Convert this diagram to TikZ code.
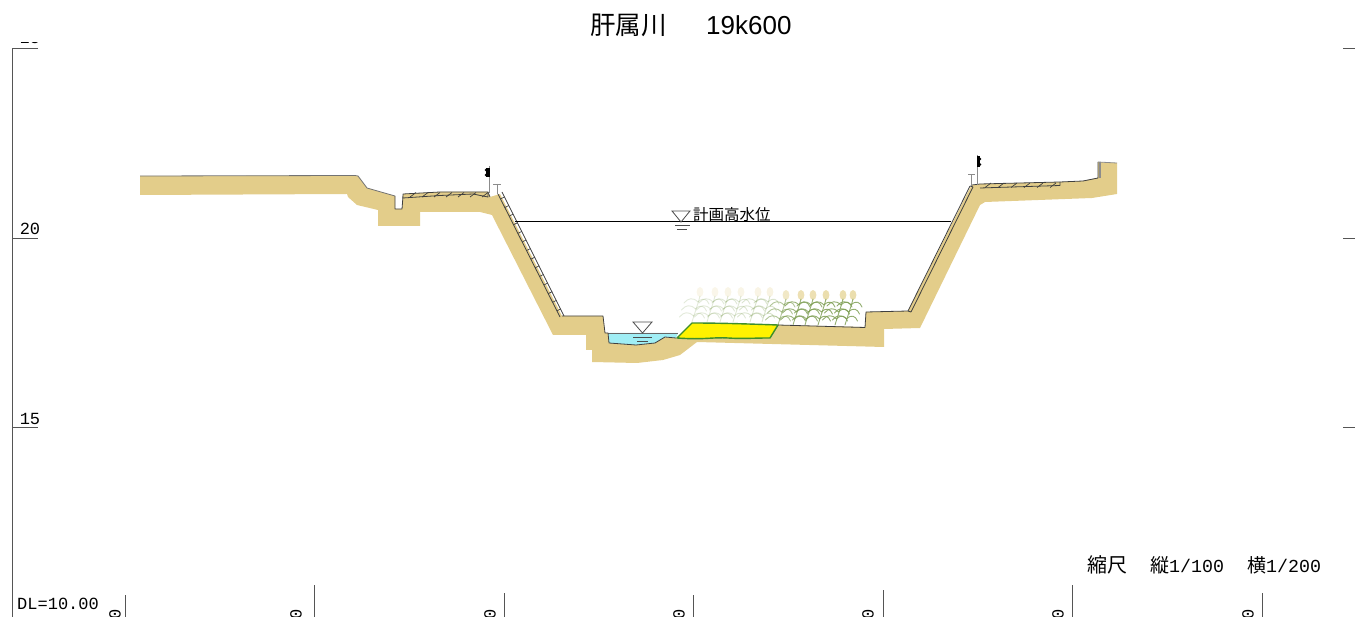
\documentclass[tikz,border=0pt]{standalone}
\usepackage{fontspec}
\setmainfont{Liberation Sans}
\newfontfamily\cjk{Noto Sans CJK JP}
\newfontfamily\lab{Liberation Mono}
\definecolor{soil}{HTML}{E3CD8A}
\definecolor{wat}{HTML}{A0EEF5}
\definecolor{grn}{HTML}{3E8E2B}
\definecolor{leaf}{HTML}{7F9F55}
\definecolor{tass}{HTML}{E8D8A0}
\definecolor{axisg}{HTML}{555555}
\tikzset{
  axis/.style={draw=axisg,line width=1pt},
  prof/.style={draw=black!75,line width=.8pt,line join=round},
  lbl/.style={inner sep=0pt,font=\fontsize{17}{17}\selectfont\lab},
  pole/.style={draw=black!45,line width=.8pt},
  plantline/.style={line width=.9pt,line cap=round}
}
\newcommand{\corn}[3]{%
 \begin{scope}[shift={(#1,#2)},opacity=#3]
  \fill[tass] (8,-30) ellipse (3.4 and 5);
  \draw[plantline,leaf] (0,0) .. controls (3,-10) and (6,-18) .. (8,-26);
  \foreach \yy/\xx in {-6/1.5,-13/3.5,-20/6}{
    \draw[plantline,leaf] (\xx,\yy) .. controls (\xx+5,\yy-5) and (\xx+9,\yy-3) .. (\xx+11,\yy+2);
    \draw[plantline,leaf] (\xx,\yy) .. controls (\xx-5,\yy-5) and (\xx-10,\yy-4) .. (\xx-14,\yy+1);
  }
 \end{scope}}
\begin{document}
\begin{tikzpicture}[x=1pt,y=-1pt]
\useasboundingbox (0,0) rectangle (1355,617);
% soil body
\fill[soil] (140,176) -- (355,175.5) -- (358,176) -- (367,188) -- (395,196) -- (395,209) -- (402,209) -- (403,196)
 -- (440,192) -- (488,192) -- (490,197) -- (500,194) -- (562,316) -- (603,316) -- (605,333) -- (608,333) -- (676,338) -- (692,323) -- (778,325)
 -- (865,327) -- (866,312) -- (908,311) -- (970,188) -- (972,185) -- (980,184) -- (1060,182) -- (1083,181) -- (1093,179) -- (1098,178) -- (1098,162) -- (1117,163)
 -- (1117,194) -- (1092,198) -- (985,202) -- (980,205) -- (920,328) -- (884,329) -- (884,347) -- (697,342) -- (680,355) -- (663,360) -- (637,363) -- (592,362) -- (592,350) -- (586,350) -- (586,335) -- (553,335)
 -- (492,215) -- (480,212) -- (420,212) -- (420,226) -- (378,226) -- (378,210) -- (357,205) -- (348,197) -- (347,194) -- (140,195) -- cycle;
% plants
\foreach \x/\o in {692/.22,707/.22,720/.25,733/.25,750/.28,762/.3}{\corn{\x}{322}{\o}}
\foreach \x/\o in {778/.6,793/.8,805/.8,818/.85,835/.85,845/.85}{\corn{\x}{325}{\o}}
% water
\fill[wat] (608,333) -- (678,333) -- (676,338) -- (665,337) -- (655,343) -- (636,345) -- (609,343) -- cycle;
\draw[prof,draw=black!60,line width=.7pt] (608,333) -- (678,333);
\draw[prof] (608,333) -- (609,343) -- (636,345) -- (655,343) -- (665,337) -- (676,338);
% sediment bar
\fill[yellow,draw=grn,line width=1.4pt,line join=round] (677,338) -- (692,323) .. controls (720,323) and (750,324) .. (778,325) -- (770,338) .. controls (750,338) and (745,339) .. (728,338) .. controls (712,337) and (705,340) .. (677,338) -- cycle;
% ground profile
\draw[prof,draw=black!55] (140,176) -- (355,175.5) -- (358,176) -- (367,188) -- (395,196);
\draw[prof] (395,196) -- (395,209) -- (402,209) -- (403,196);
\draw[prof] (488,192) -- (490,197);
\draw[prof] (562,316) -- (603,316) -- (605,333) -- (608,333);
\draw[prof] (778,325) -- (865,327.5) -- (866,312) -- (908,311);
\draw[prof] (972,185) -- (980,184) -- (1060,182) -- (1083,181) -- (1093,179) -- (1098,178) -- (1098,162);
\draw[draw=black!45,line width=.8pt] (1098,162) -- (1117,163);
\draw[draw=black!45,line width=1.6pt] (1100,162) -- (1100,178);
% left slope revetment
\draw[prof] (498,194) -- (560,317);
\draw[prof] (502,192) -- (564,316);
\foreach \t in {0.04,0.11,...,1}{
  \draw[draw=black!75,line width=.7pt] ({498+62*\t},{194+123*\t}) -- ({502+62*\t},{192+123*\t});
}
% left berm
\draw[prof,fill=soil] (403,194) -- (440,192) -- (488,192) -- (488,197) -- (473,194) -- (440,195.5) -- (403,198) -- cycle;
\foreach \x in {410,422,434,446,458,470,482}{
  \draw[draw=black!75,line width=.7pt] (\x,197) -- (\x+6,192.5);
}
% right slope revetment
\draw[prof] (908,311) -- (970,186);
\draw[prof] (911,312) -- (973,187);
\draw[prof] (970,186) -- (973,187);
\draw[prof] (908,311) -- (911,312);
% right berm
\draw[prof] (980,188) -- (1060,185.5) -- (1060,182);
\foreach \x in {985,998,1011,1024,1037,1050}{
  \draw[draw=black!75,line width=.7pt] (\x,187.5) -- (\x+6,183);
}
% piles and flags
\draw[pole] (489,166) -- (489,193);
\fill[black] (486,168) rectangle (490,177);
\fill[black] (486.5,170) circle (1.8) (486.5,175) circle (1.8);
\draw[pole] (493,184) -- (501,184) (497,184) -- (497,194);
\draw[pole] (977,155) -- (977,185);
\fill[black] (977,156) rectangle (980,167);
\fill[black] (979.5,159) circle (1.8) (979.5,164.5) circle (1.8);
\draw[pole] (968,174.5) -- (975,174.5) (971.5,174.5) -- (971.5,186);
% high water level
\draw[black,line width=1pt] (515,222) -- (951,222);
\draw[black!70,line width=.8pt] (672,211) -- (690,211) -- (681,222) -- cycle;
\draw[black!70,line width=.8pt] (675,225.5) -- (690,225.5) (677,229.5) -- (687,229.5);
\node[inner sep=0pt,anchor=west,font=\fontsize{15.5}{16}\selectfont\cjk] (hwl) at (693,215) {計画高水位};
% low water marker
\draw[black!70,line width=.8pt] (633,322) -- (652,322) -- (642.5,333) -- cycle;
\draw[black!70,line width=.7pt] (633,337) -- (652,337) (637,341) -- (648,341);
% axes
\draw[axis] (38,49) -- (12,49) -- (12,617);
\draw[axis] (12,239) -- (38,239) (12,428) -- (38,428);
\draw[axis] (1343,49) -- (1355,49) (1343,239) -- (1355,239) (1343,428) -- (1355,428);
\foreach \x/\y in {125.5/595,314.5/585,504/593,693/595,883/590,1072/585,1262/593}{
  \draw[axis] (\x,\y) -- (\x,617);
}
\begin{scope}
  \clip (0,43) rectangle (60,47);
  \node[lbl,anchor=center] (ltop) at (30,38) {25};
\end{scope}
\node[lbl] (l20) at (30,228.5) {20};
\node[lbl] (l15) at (30,419) {15};
\node[lbl,anchor=west] (dl) at (17,604) {DL=10.00};
\foreach \x/\t/\nm in {115/{-20}/a,296/{-10}/b,490/{0}/c,679/{10}/d,868/{20}/e,1058/{30}/f,1248/{40}/g}{
  \node[lbl,rotate=90,anchor=east] (tick\nm) at (\x,609) {\t};
}
\node[inner sep=0pt,anchor=west,font=\fontsize{20}{20}\selectfont\cjk] (sc1) at (1087,565) {縮尺};
\node[inner sep=0pt,anchor=west,font=\fontsize{19}{20}\selectfont] (sc2) at (1150,565) {{\cjk 縦}{\fontsize{18.3}{20}\selectfont\lab 1/100}};
\node[inner sep=0pt,anchor=west,font=\fontsize{19}{20}\selectfont] (sc3) at (1247,565) {{\cjk 横}{\fontsize{18.3}{20}\selectfont\lab 1/200}};
% title
\node[inner sep=0pt,anchor=west,font=\fontsize{25.5}{26}\selectfont\cjk] (t1) at (590,25) {肝属川};
\node[inner sep=0pt,anchor=west,font=\fontsize{26}{26}\selectfont] (t2) at (706,25) {19k600};
\end{tikzpicture}
\end{document}
